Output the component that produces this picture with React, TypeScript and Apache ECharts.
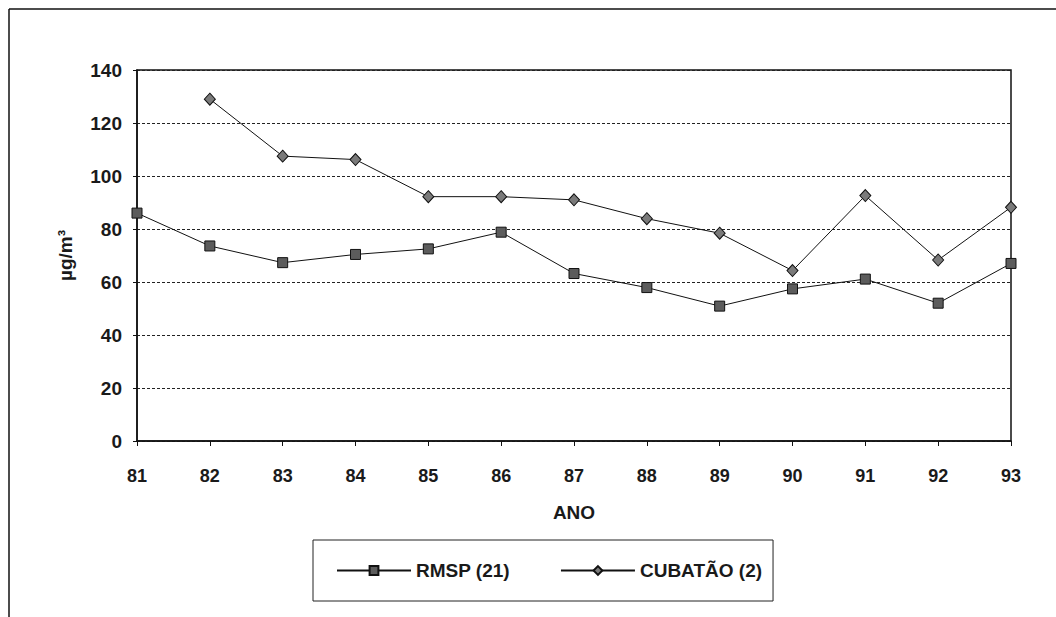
import React, { useEffect, useRef } from "react";
import * as echarts from "echarts";

// Anos (eixo X)
const anos = ["81", "82", "83", "84", "85", "86", "87", "88", "89", "90", "91", "92", "93"];

// Médias anuais (µg/m³)
const rmsp = [86, 73.6, 67.3, 70.4, 72.5, 78.8, 63.2, 57.9, 50.9, 57.4, 61.1, 52, 67];
const cubatao = [null, 129, 107.5, 106.2, 92.2, 92.2, 91, 83.9, 78.4, 64.3, 92.6, 68.3, 88.2];

const FONT = "'Liberation Sans', Arial, sans-serif";

export default function App() {
  const ref = useRef<HTMLDivElement>(null);

  useEffect(() => {
    document.body.style.margin = "0";
    if (!ref.current) return;
    const chart = echarts.init(ref.current, null, { renderer: "svg" });
    const textBase = { fontFamily: FONT, fontWeight: "bold" as const, fontSize: 19, color: "#1a1a1a" };

    chart.setOption({
      animation: false,
      backgroundColor: "#ffffff",
      grid: {
        left: 137,
        right: 45,
        top: 70,
        bottom: 176,
        show: true,
        borderColor: "#111",
        borderWidth: 1.5,
      },
      legend: {
        left: 313,
        top: 540,
        orient: "horizontal",
        padding: [21, 11, 21, 23],
        itemGap: 50,
        itemWidth: 74,
        itemHeight: 11,
        borderColor: "#222",
        borderWidth: 1,
        textStyle: { ...textBase },
        data: ["RMSP (21)", "CUBATÃO (2)"],
      },
      xAxis: {
        type: "category",
        data: anos,
        boundaryGap: false,
        name: "ANO",
        nameLocation: "middle",
        nameGap: 62,
        nameTextStyle: { ...textBase },
        axisLine: { lineStyle: { color: "#111", width: 1.5 } },
        axisTick: { show: true, length: 5, lineStyle: { color: "#111" } },
        axisLabel: { ...textBase, fontSize: 18, margin: 26 },
        splitLine: { show: false },
      },
      yAxis: {
        type: "value",
        min: 0,
        max: 140,
        interval: 20,
        name: "µg/m³",
        nameLocation: "middle",
        nameRotate: 90,
        nameGap: 62,
        nameTextStyle: { ...textBase },
        axisLine: { show: true, lineStyle: { color: "#111", width: 1.5 } },
        axisTick: { show: true, length: 4, lineStyle: { color: "#111" } },
        axisLabel: { ...textBase, margin: 15 },
        splitLine: {
          show: true,
          lineStyle: { color: "#222", width: 1, type: [3, 2] },
        },
      },
      series: [
        {
          name: "RMSP (21)",
          type: "line",
          data: rmsp,
          symbol: "rect",
          symbolSize: 10,
          lineStyle: { color: "#111", width: 1 },
          itemStyle: { color: "#5c5c5c", borderColor: "#111", borderWidth: 1 },
        },
        {
          name: "CUBATÃO (2)",
          type: "line",
          data: cubatao,
          symbol: "diamond",
          symbolSize: [11, 12],
          lineStyle: { color: "#111", width: 1 },
          itemStyle: { color: "#7a7a7a", borderColor: "#111", borderWidth: 1 },
        },
      ],
      graphic: [
        { type: "line", shape: { x1: 9, y1: 9, x2: 1056, y2: 9 }, style: { stroke: "#111", lineWidth: 1.5 } },
        { type: "line", shape: { x1: 9, y1: 9, x2: 9, y2: 617 }, style: { stroke: "#111", lineWidth: 1.5 } },
      ],
    });

    return () => chart.dispose();
  }, []);

  return <div ref={ref} style={{ width: 1056, height: 617 }} />;
}
